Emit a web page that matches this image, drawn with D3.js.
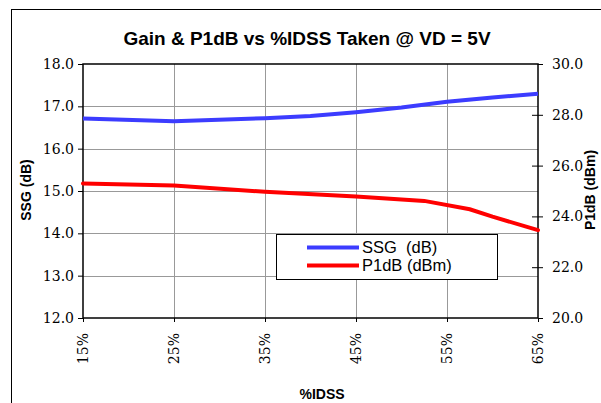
<!DOCTYPE html>
<html><head><meta charset="utf-8">
<script src="https://cdn.jsdelivr.net/npm/d3@7"></script>
<style>body{margin:0;background:#fff}svg{display:block}</style>
</head><body>
<svg id="c" width="601" height="403"></svg>
<script>
const title = "Gain & P1dB vs %IDSS Taken @ VD = 5V";
const xTicks = [15, 25, 35, 45, 55, 65];
const leftTicks = [12, 13, 14, 15, 16, 17, 18];
const rightTicks = [20, 22, 24, 26, 28, 30];
const ssgX = [15, 25, 35, 40, 45, 50, 55, 60, 65];
const ssgY = [16.71, 16.65, 16.72, 16.77, 16.86, 16.97, 17.11, 17.21, 17.30];
const p1X = [15, 25, 35, 45, 52.5, 57.5, 60, 65];
const p1Y = [25.30, 25.22, 24.97, 24.78, 24.61, 24.28, 23.99, 23.46];

const SANS = "'Liberation Sans', Arial, sans-serif";
const SERIF = "'DejaVu Serif', serif";

const svg = d3.select("#c");
const L = 83, R = 538, T = 64, B = 318;
const x = d3.scaleLinear().domain([15, 65]).range([L, R]);
const yL = d3.scaleLinear().domain([12, 18]).range([B, T]);
const yR = d3.scaleLinear().domain([20, 30]).range([B, T]);

svg.append("rect").attr("x", 11.5).attr("y", 9.5).attr("width", 620).attr("height", 420)
  .attr("fill", "#fff").attr("stroke", "#000").attr("stroke-width", 1);

svg.append("text").style("font-family", SANS).attr("x", 307).attr("y", 45).attr("text-anchor", "middle")
  .style("font-weight", "bold").style("font-size", "19px").text(title);

const g = svg.append("g");
g.selectAll("line.h").data(leftTicks.slice(1, -1)).join("line")
  .attr("x1", L).attr("x2", R).attr("y1", d => Math.round(yL(d)) + 0.5).attr("y2", d => Math.round(yL(d)) + 0.5)
  .attr("stroke", "#999").attr("stroke-width", 1);
g.selectAll("line.v").data(xTicks.slice(1, -1)).join("line")
  .attr("y1", T).attr("y2", B).attr("x1", d => Math.round(x(d)) + 0.5).attr("x2", d => Math.round(x(d)) + 0.5)
  .attr("stroke", "#999").attr("stroke-width", 1);

svg.append("rect").attr("x", L).attr("y", T).attr("width", R - L).attr("height", B - T)
  .attr("fill", "none").attr("stroke", "#000").attr("stroke-width", 1.5);

function styleTicks(ax) {
  ax.select(".domain").remove();
  ax.attr("font-family", SERIF).attr("font-size", 14);
  ax.selectAll("text").attr("fill", "#000");
  ax.selectAll("line").attr("stroke", "#000");
}
const axL = svg.append("g").attr("transform", `translate(${L},0)`)
  .call(d3.axisLeft(yL).tickValues(leftTicks).tickFormat(d3.format(".1f")).tickSize(5).tickPadding(4));
styleTicks(axL);

const axR = svg.append("g").attr("transform", `translate(${R},0)`)
  .call(d3.axisRight(yR).tickValues(rightTicks).tickFormat(d3.format(".1f")).tickSize(5).tickPadding(9));
styleTicks(axR);
axR.selectAll("line").attr("x1", d => (d === 20 || d === 30) ? 0 : -6);

const axB = svg.append("g").attr("transform", `translate(0,${B})`)
  .call(d3.axisBottom(x).tickValues(xTicks).tickFormat(d => d + "%").tickSize(4));
styleTicks(axB);
axB.selectAll("text").attr("text-anchor", "end").attr("transform", "rotate(-90)")
  .attr("x", -15).attr("y", 0).attr("dy", "0.35em");

function axisTitle(t, tr) {
  svg.append("text").attr("transform", tr).attr("text-anchor", "middle")
    .style("font-family", SANS).style("font-weight", "bold").style("font-size", "14px").text(t);
}
axisTitle("SSG (dB)", "translate(31,190) rotate(-90)");
axisTitle("P1dB (dBm)", "translate(595,190) rotate(-90)");
axisTitle("%IDSS", "translate(322,399)");

const ssg = ssgX.map((d, i) => [d, ssgY[i]]);
const p1 = p1X.map((d, i) => [d, p1Y[i]]);
svg.append("path").datum(ssg).attr("fill", "none").attr("stroke", "#3c3cff").attr("stroke-width", 4)
  .attr("d", d3.line().x(d => x(d[0])).y(d => yL(d[1])));
svg.append("path").datum(p1).attr("fill", "none").attr("stroke", "#ff0000").attr("stroke-width", 4)
  .attr("stroke-linecap", "round")
  .attr("d", d3.line().x(d => x(d[0])).y(d => yR(d[1])));

const lg = svg.append("g");
lg.append("rect").attr("x", 276.5).attr("y", 234.5).attr("width", 221).attr("height", 45)
  .attr("fill", "#fff").attr("stroke", "#000").attr("stroke-width", 1);
const items = [["SSG  (dB)", "#3c3cff", 247.5], ["P1dB (dBm)", "#ff0000", 265.5]];
items.forEach(([t, c, yy]) => {
  lg.append("line").attr("x1", 307).attr("x2", 359).attr("y1", yy).attr("y2", yy)
    .attr("stroke", c).attr("stroke-width", 4);
  lg.append("text").attr("x", 362).attr("y", yy + 5.5).style("font-family", SANS).style("font-size", "16.5px")
    .style("white-space", "pre").text(t);
});
</script>
</body></html>
